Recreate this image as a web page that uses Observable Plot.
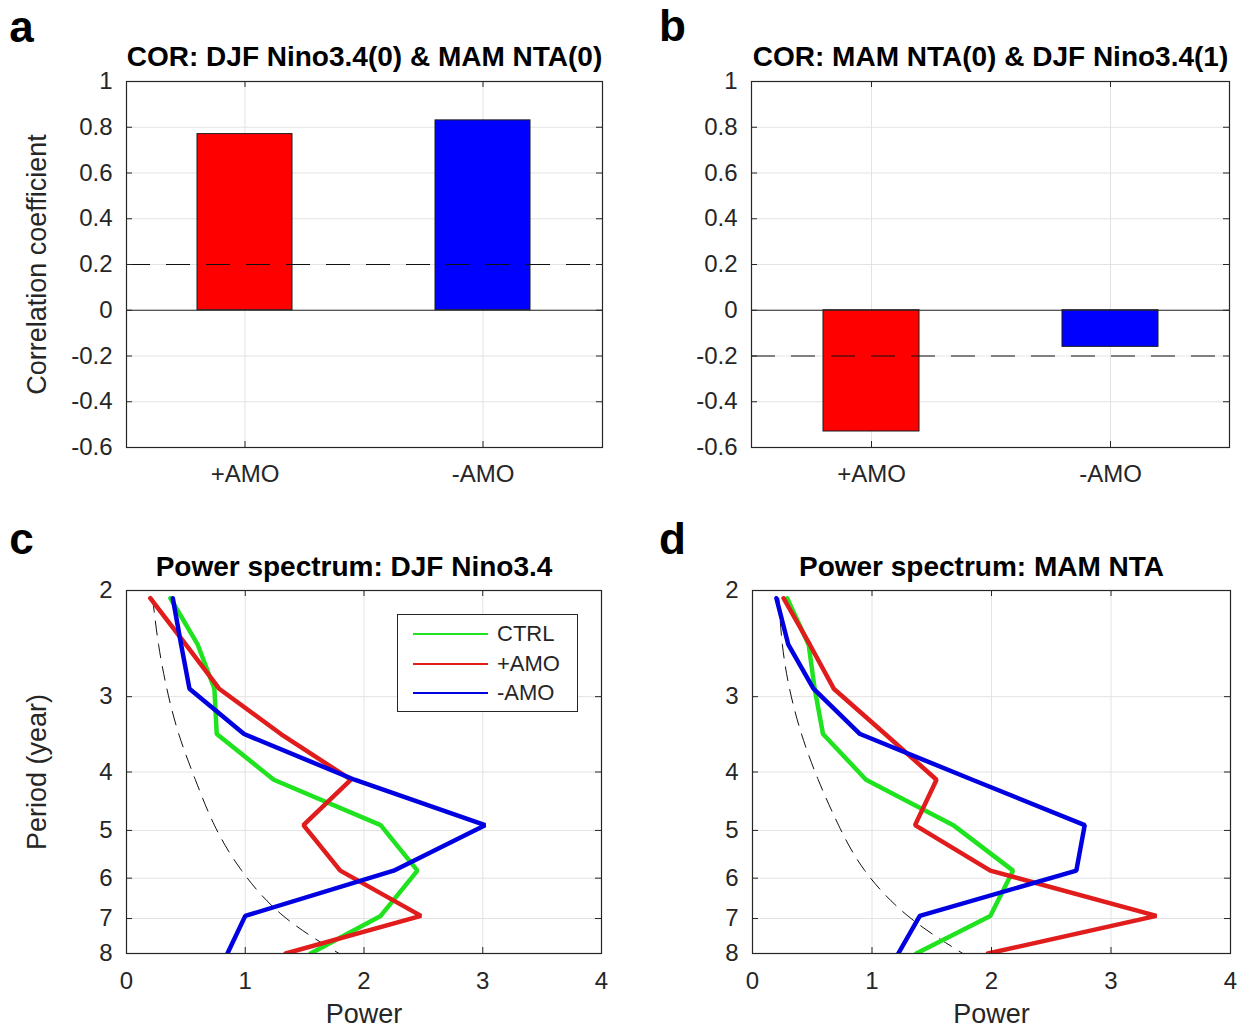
<!DOCTYPE html>
<html><head><meta charset="utf-8">
<script src="https://cdn.jsdelivr.net/npm/d3@7"></script>
<script src="https://cdn.jsdelivr.net/npm/@observablehq/plot@0.6"></script>
<style>
body{margin:0;background:#fff;}
#fig{position:relative;width:1241px;height:1030px;overflow:hidden;font-family:"Liberation Sans",Arial,Helvetica,sans-serif;color:#262626;background:#fff;}
#fig > svg{position:absolute;}
.legend{position:absolute;box-sizing:border-box;border:1px solid #262626;background:#fff;}
.legend .row{position:absolute;left:0;right:0;height:28px;}
.legend .sw{position:absolute;left:15px;width:75px;height:2px;top:13px;}
.legend .lb{position:absolute;left:99px;top:0;line-height:28px;font-size:22px;color:#262626;}
</style></head><body><div id="fig"></div>
<script>
// ---- data ----
const groups = ["+AMO", "-AMO"];
const barColors = ["#ff0000", "#0000ff"];
const corA = [0.77, 0.83];
const corB = [-0.53, -0.16];
const sigA = 0.2;
const sigB = -0.2;
const corTicks = [-0.6, -0.4, -0.2, 0, 0.2, 0.4, 0.6, 0.8, 1];

const periods = [2.06, 2.46, 2.91, 3.46, 4.12, 4.90, 5.83, 6.93, 8.0];
const ctrlC = [0.37, 0.60, 0.74, 0.76, 1.24, 2.14, 2.45, 2.14, 1.55];
const posC  = [0.20, 0.50, 0.78, 1.30, 1.89, 1.49, 1.80, 2.48, 1.34];
const negC  = [0.39, 0.46, 0.53, 0.99, 1.92, 3.02, 2.25, 1.00, 0.85];
const redC  = [0.22, 0.27, 0.34, 0.44, 0.58, 0.74, 0.97, 1.32, 1.79];
const ctrlD = [0.29, 0.47, 0.52, 0.59, 0.95, 1.68, 2.18, 1.99, 1.37];
const posD  = [0.26, 0.48, 0.68, 1.11, 1.54, 1.36, 1.99, 3.38, 1.97];
const negD  = [0.20, 0.30, 0.51, 0.90, 1.84, 2.78, 2.71, 1.40, 1.22];
const redD  = [0.22, 0.25, 0.31, 0.41, 0.55, 0.72, 0.94, 1.30, 1.76];
const periodTicks = [2, 3, 4, 5, 6, 7, 8];
const powerTicks = [0, 1, 2, 3, 4];
const seriesNames = ["CTRL", "+AMO", "-AMO"];
const seriesColors = ["#1fe31f", "#e01c1c", "#0000e0"];

// ---- style ----
const FONT = '"Liberation Sans", Arial, Helvetica, sans-serif';
const INK = "#262626";
const GRID = "#e3e3e3";
const fig = document.getElementById("fig");
const fmt = d => String(+d.toFixed(1));

function place(svg, left, top) {
  svg.style.left = left + "px";
  svg.style.top = top + "px";
  fig.appendChild(svg);
}

function labels(title, letter, o, titleDx, titleDy, hasPower) {
  const m = [
    Plot.text([title], {frameAnchor: "top", dx: titleDx, dy: titleDy, fontSize: 28, fontWeight: "bold", fill: "#000", textAnchor: "middle", lineAnchor: "middle"}),
    Plot.text([letter], {frameAnchor: "top-left", dx: o.letterDx, dy: o.letterDy, fontSize: 44, fontWeight: "bold", fill: "#000", textAnchor: "middle", lineAnchor: "middle"})
  ];
  if (o.ylabel) m.push(Plot.text([o.ylabel], {frameAnchor: "left", dx: -89, rotate: -90, fontSize: 27, fill: INK, textAnchor: "middle", lineAnchor: "middle"}));
  if (hasPower) m.push(Plot.text(["Power"], {frameAnchor: "bottom", dy: 61, fontSize: 27, fill: INK, textAnchor: "middle", lineAnchor: "middle"}));
  return m;
}

function barPanel(vals, sig, title, letter, o) {
  const W = 616, H = 505, mT = 81, mB = 58;
  const fw = W - o.mL - o.mR, fh = H - mT - mB;
  const data = groups.map((g, i) => ({group: g, value: vals[i]}));
  return Plot.plot({
    width: W, height: H, marginLeft: o.mL, marginRight: o.mR, marginTop: mT, marginBottom: mB,
    style: {background: "transparent", fontFamily: FONT, color: INK, overflow: "visible"},
    x: {type: "band", domain: groups, paddingInner: 0.6, paddingOuter: 0.3, align: 0.5},
    y: {domain: [-0.6, 1]},
    color: {domain: groups, range: barColors},
    marks: [
      Plot.ruleX(groups, {x: d => d, stroke: GRID}),
      Plot.ruleY(corTicks, {y: d => d, stroke: GRID}),
      Plot.barY(data, {x: "group", y: "value", fill: "group", stroke: "#1a1a1a", strokeWidth: 1}),
      Plot.ruleY([0], {stroke: INK, strokeWidth: 1}),
      Plot.ruleY([sig], {stroke: "#111", strokeWidth: 1, strokeDasharray: "24,16"}),
      Plot.tickY(corTicks, {y: d => d, insetRight: fw - 6, stroke: INK}),
      Plot.tickY(corTicks, {y: d => d, insetLeft: fw - 6, stroke: INK}),
      Plot.tickX(groups, {x: d => d, insetTop: fh - 6, stroke: INK}),
      Plot.tickX(groups, {x: d => d, insetBottom: fh - 6, stroke: INK}),
      Plot.frame({stroke: INK, strokeWidth: 1.2}),
      Plot.axisY({ticks: corTicks, tickSize: 0, tickPadding: 14, tickFormat: fmt, fontSize: 24, label: null}),
      Plot.axisX({tickSize: 0, tickPadding: 17, fontSize: 24, label: null}),
      ...labels(title, letter, o, 0, -24, false)
    ]
  });
}

function specPanel(ctrl, pos, neg, red, title, letter, o) {
  const W = 616, H = 520, mT = 80, mB = 77;
  const fw = W - o.mL - o.mR, fh = H - mT - mB;
  const rows = [];
  [ctrl, pos, neg].forEach((s, k) => periods.forEach((p, i) => rows.push({series: seriesNames[k], period: p, power: s[i]})));
  const noise = periods.map((p, i) => ({period: p, power: red[i]}));
  return Plot.plot({
    width: W, height: H, marginLeft: o.mL, marginRight: o.mR, marginTop: mT, marginBottom: mB,
    style: {background: "transparent", fontFamily: FONT, color: INK, overflow: "visible"},
    x: {domain: [0, 4]},
    y: {type: "log", domain: [2, 8], reverse: true},
    color: {domain: seriesNames, range: seriesColors},
    marks: [
      Plot.ruleX(powerTicks, {x: d => d, stroke: GRID}),
      Plot.ruleY(periodTicks, {y: d => d, stroke: GRID}),
      Plot.line(noise, {x: "power", y: "period", curve: "natural", stroke: "#111", strokeWidth: 1, strokeDasharray: "14,9"}),
      Plot.line(rows, {x: "power", y: "period", z: "series", stroke: "series", strokeWidth: 4.5, strokeLinejoin: "miter", clip: true}),
      Plot.tickY(periodTicks, {y: d => d, insetRight: fw - 6, stroke: INK}),
      Plot.tickY(periodTicks, {y: d => d, insetLeft: fw - 6, stroke: INK}),
      Plot.tickX(powerTicks, {x: d => d, insetTop: fh - 6, stroke: INK}),
      Plot.tickX(powerTicks, {x: d => d, insetBottom: fh - 6, stroke: INK}),
      Plot.frame({stroke: INK, strokeWidth: 1.2}),
      Plot.axisY({ticks: periodTicks, tickSize: 0, tickPadding: 14, tickFormat: d => String(d), fontSize: 24, label: null}),
      Plot.axisX({ticks: powerTicks, tickSize: 0, tickPadding: 18, tickFormat: d => String(d), fontSize: 24, label: null}),
      ...labels(title, letter, o, -10, -23, true)
    ]
  });
}

place(barPanel(corA, sigA, "COR: DJF Nino3.4(0) & MAM NTA(0)", "a", {mL: 126, mR: 14, letterDx: -105, letterDy: -54, ylabel: "Correlation coefficient"}), 0, 0);
place(barPanel(corB, sigB, "COR: MAM NTA(0) & DJF Nino3.4(1)", "b", {mL: 126, mR: 12, letterDx: -79, letterDy: -55}), 625, 0);
place(specPanel(ctrlC, posC, negC, redC, "Power spectrum: DJF Nino3.4", "c", {mL: 126, mR: 15, letterDx: -105, letterDy: -51, ylabel: "Period (year)"}), 0, 510);
place(specPanel(ctrlD, posD, negD, redD, "Power spectrum: MAM NTA", "d", {mL: 127, mR: 11, letterDx: -80, letterDy: -51}), 625, 510);

// legend (panel c)
const leg = document.createElement("div");
leg.className = "legend";
Object.assign(leg.style, {left: "397px", top: "614px", width: "181px", height: "98px"});
seriesNames.forEach((name, i) => {
  const row = document.createElement("div");
  row.className = "row";
  row.style.top = (5 + i * 29.5) + "px";
  const sw = document.createElement("span");
  sw.className = "sw";
  sw.style.background = seriesColors[i];
  const lb = document.createElement("span");
  lb.className = "lb";
  lb.textContent = name;
  row.appendChild(sw); row.appendChild(lb);
  leg.appendChild(row);
});
fig.appendChild(leg);
</script></body></html>
